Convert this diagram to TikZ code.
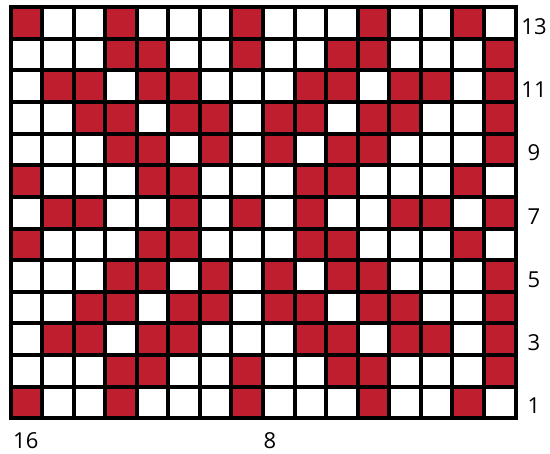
\documentclass[tikz,border=0pt]{standalone}
\usepackage{fontspec}
\setmainfont{Open Sans}
\definecolor{cellred}{RGB}{190,30,45}
\begin{document}
\begin{tikzpicture}[x=1pt,y=-1pt,
  gridline/.style={line width=4pt,black,line cap=rect},
  numlabel/.style={font=\fontsize{22}{22}\selectfont,inner sep=0pt}]
\useasboundingbox[fill=white] (0,0) rectangle (550,454);
\def\xo{10.5}\def\yo{7}\def\cw{31.5625}\def\ch{31.65}
\foreach \row [count=\j from 0] in {
  {1,0,0,1,0,0,0,1,0,0,0,1,0,0,1,0},
  {0,0,0,1,1,0,0,1,0,0,1,1,0,0,0,1},
  {0,1,1,0,1,1,0,0,0,1,1,0,1,1,0,1},
  {0,0,1,1,0,1,1,0,1,1,0,1,1,0,0,1},
  {0,0,0,1,1,0,1,0,1,0,1,1,0,0,0,1},
  {1,0,0,0,1,1,0,0,0,1,1,0,0,0,1,0},
  {0,1,1,0,0,1,0,1,0,1,0,0,1,1,0,1},
  {1,0,0,0,1,1,0,0,0,1,1,0,0,0,1,0},
  {0,0,0,1,1,0,1,0,1,0,1,1,0,0,0,1},
  {0,0,1,1,0,1,1,0,1,1,0,1,1,0,0,1},
  {0,1,1,0,1,1,0,0,0,1,1,0,1,1,0,1},
  {0,0,0,1,1,0,0,1,0,0,1,1,0,0,0,1},
  {1,0,0,1,0,0,0,1,0,0,0,1,0,0,1,0}}{
  \foreach \v [count=\i from 0] in \row {
    \ifnum\v=1
      \fill[cellred] ({\xo+\i*\cw},{\yo+\j*\ch}) rectangle ++(\cw,\ch);
    \fi
  }
}
\foreach \i in {0,...,16}
  \draw[gridline] ({\xo+\i*\cw},\yo) -- ({\xo+\i*\cw},{\yo+13*\ch});
\foreach \j in {0,...,13}
  \draw[gridline] (\xo,{\yo+\j*\ch}) -- ({\xo+16*\cw},{\yo+\j*\ch});
\foreach \k in {1,3,...,13}
  \node[numlabel] (r\k) at (534,{\yo+(13-\k+0.5)*\ch+3.5}) {\k};
\node[numlabel,anchor=west] (c16) at ({\xo+2.5},440.5) {16};
\node[numlabel,anchor=west] (c8) at ({\xo+8*\cw+0.5},440.5) {8};
\end{tikzpicture}
\end{document}
